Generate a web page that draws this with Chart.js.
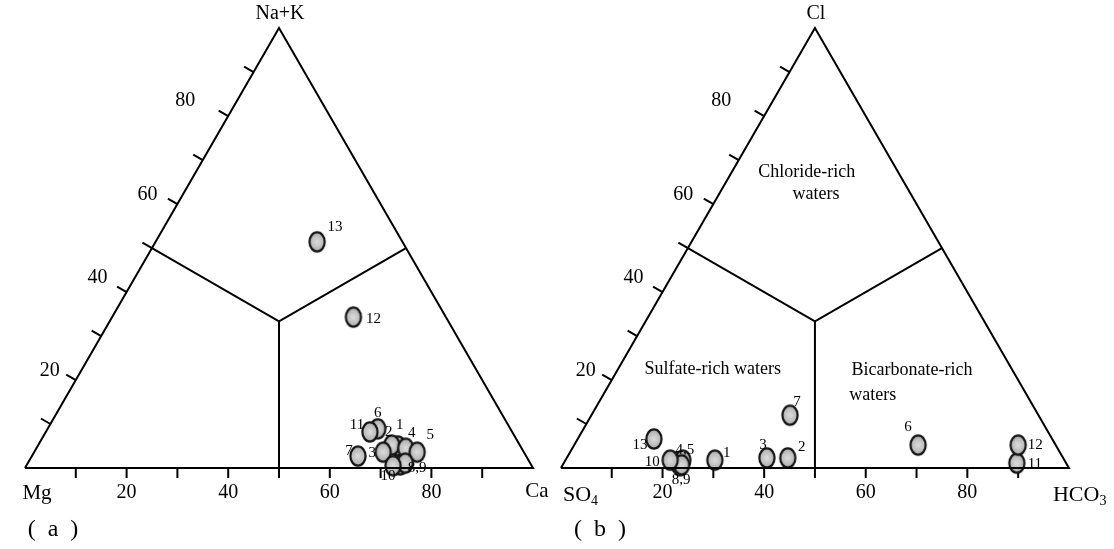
<!DOCTYPE html>
<html>
<head>
<meta charset="utf-8">
<script src="https://cdn.jsdelivr.net/npm/chart.js@4"></script>
<style>
  html, body { margin: 0; padding: 0; background: #fff; }
  canvas { display: block; }
</style>
</head>
<body>
<canvas id="ternary" width="1114" height="549"></canvas>
<script>
// Probennummern 1..13
const samples = ['1', '2', '3', '4', '5', '6', '7', '8', '9', '10', '11', '12', '13'];

// (a) Kationen in % (Mg = 100 - Ca - Na+K)
const caA  = [70.9, 69.6, 68.7, 72.7, 75.4, 65.0, 64.2, 73.5, 74.3, 72.2, 63.8, 47.5, 31.8];
const nakA = [ 5.0,  5.2,  3.6,  4.5,  3.6,  8.9,  2.7,  0.7,  1.1,  0.5,  8.2, 34.3, 51.4];

// (b) Anionen in % (SO4 = 100 - HCO3 - Cl)
const hco3B = [29.4, 43.5, 39.4, 22.1, 23.1, 67.7, 39.1, 23.2, 23.4, 20.6, 89.2, 87.4, 15.0];
const clB   = [ 1.8,  2.3,  2.3,  1.4,  1.8,  5.2, 12.0,  0.5,  0.7,  1.8,  1.1,  5.2,  6.6];

const edgeTicks = [10, 20, 30, 40, 50, 60, 70, 80, 90];
const tickLabels = [20, 40, 60, 80];

// Beschriftungen der Punkte (8 und 9 teilen sich ein Label)
const labelsA = ['1', '2', '3', '4', '5', '6', '7', '8,9', '', '10', '11', '12', '13'];
const labelsB = ['1', '2', '3', '4,5', '', '6', '7', '8,9', '', '10', '11', '12', '13'];
// Versatz der Label in Pixeln
const offA = [[2,-21],[-3,-13],[-11,1],[6,-15],[13,-17],[0,-16],[-9,-5],[17,3],[0,0],[-5,10],[-13,-7],[20,2],[18,-15]];
const offB = [[12,-7],[14,-11],[-4,-13],[8,-12],[0,0],[-10,-18],[7,-13],[1,14],[0,0],[-18,2],[18,1],[17,0],[-14,6]];
// Feinkorrektur der Kantenbeschriftung 20/40/60/80
const sideShift = [[-26,-9],[-29,-14],[-30,-9],[-43,-15]];

const SIN60 = Math.sqrt(3) / 2;
const OFFSET_B = 105.5;   // zweites Dreieck rechts daneben

// Ternär -> kartesisch
const toXY = (right, top, off) => ({ x: off + right + top / 2, y: top * SIN60 });

const pointsA = caA.map((c, i) => toXY(c, nakA[i], 0));
const pointsB = hco3B.map((h, i) => toXY(h, clB[i], OFFSET_B));

const frame = (off) => [toXY(0, 0, off), toXY(100, 0, off), toXY(0, 100, off), toXY(0, 0, off)];
const divide = (off) => [toXY(0, 50, off), toXY(100 / 3, 100 / 3, off), toXY(50, 50, off)];
const stem = (off) => [toXY(100 / 3, 100 / 3, off), toXY(50, 0, off)];

// Ellipse als Punktsymbol
const ellipse = document.createElement('canvas');
ellipse.width = 20;
ellipse.height = 24;
(() => {
    const c = ellipse.getContext('2d');
    const g = c.createRadialGradient(10, 12, 1, 10, 12, 10);
    g.addColorStop(0, '#d8d8d8');
    g.addColorStop(1, '#a8a8a8');
    c.beginPath();
    c.ellipse(10, 12, 7.6, 9.6, 0, 0, Math.PI * 2);
    c.fillStyle = g;
    c.fill();
    c.lineWidth = 2.2;
    c.strokeStyle = '#151515';
    c.stroke();
})();

const lineSet = (data) => ({
    type: 'scatter',
    data: data,
    showLine: true,
    fill: false,
    borderColor: '#000',
    borderWidth: 2,
    pointRadius: 0,
    tension: 0
});

const SERIF = '"Liberation Serif", "DejaVu Serif", serif';

const decor = {
    id: 'decor',
    beforeDatasetsDraw(chart) {
        const { ctx, scales: { x, y } } = chart;
        ctx.save();
        ctx.strokeStyle = '#000';
        ctx.lineWidth = 2;
        [0, OFFSET_B].forEach(off => {
            edgeTicks.forEach(v => {
                // Grundlinie
                const b = toXY(v, 0, off);
                const bx = x.getPixelForValue(b.x), by = y.getPixelForValue(b.y);
                ctx.beginPath();
                ctx.moveTo(bx, by);
                ctx.lineTo(bx, by + 10);
                ctx.stroke();
                // linke Kante
                const l = toXY(0, v, off);
                const lx = x.getPixelForValue(l.x), ly = y.getPixelForValue(l.y);
                ctx.beginPath();
                ctx.moveTo(lx, ly);
                ctx.lineTo(lx - 11 * SIN60, ly - 5.5);
                ctx.stroke();
            });
        });
        ctx.restore();
    },
    afterDatasetsDraw(chart) {
        const { ctx, scales: { x, y } } = chart;
        const P = (pt) => [x.getPixelForValue(pt.x), y.getPixelForValue(pt.y)];
        ctx.save();
        ctx.fillStyle = '#000';
        ctx.textAlign = 'center';
        ctx.textBaseline = 'middle';

        // Achsenbeschriftung
        ctx.font = '20px ' + SERIF;
        [0, OFFSET_B].forEach(off => {
            tickLabels.forEach((v, k) => {
                const [bx, by] = P(toXY(v, 0, off));
                ctx.fillText(String(v), bx, by + 25);
                const [lx, ly] = P(toXY(0, v, off));
                ctx.fillText(String(v), lx + sideShift[k][0], ly + sideShift[k][1]);
            });
        });

        // Ecken
        const [ax, ay] = P(toXY(0, 100, 0));
        const [bx0, by0] = P(toXY(0, 0, 0));
        const [bx1] = P(toXY(100, 0, 0));
        const [cx, cy] = P(toXY(0, 100, OFFSET_B));
        const [dx0] = P(toXY(0, 0, OFFSET_B));
        const [dx1] = P(toXY(100, 0, OFFSET_B));
        ctx.font = '20px ' + SERIF;
        ctx.fillText('Na+K', ax + 1, ay - 14);
        ctx.fillText('Cl', cx + 1, cy - 14);
        ctx.font = '21px ' + SERIF;
        ctx.fillText('Mg', bx0 + 12, by0 + 25);
        ctx.fillText('Ca', bx1 + 4, by0 + 23);

        const sub = (main, s, x0, y0) => {
            ctx.textAlign = 'left';
            ctx.font = '22px ' + SERIF;
            ctx.fillText(main, x0, y0);
            const w = ctx.measureText(main).width;
            ctx.font = '14px ' + SERIF;
            ctx.fillText(s, x0 + w, y0 + 6);
            ctx.textAlign = 'center';
        };
        sub('SO', '4', dx0 + 2, by0 + 27);
        sub('HCO', '3', dx1 - 16, by0 + 27);

        ctx.font = '24px ' + SERIF;
        ctx.fillText('(  a  )', 53, 530);
        ctx.fillText('(  b  )', 600, 530);

        // Bereiche
        ctx.font = '18px ' + SERIF;
        ctx.fillText('Chloride-rich', x.getPixelForValue(153.9), y.getPixelForValue(58.3));
        ctx.fillText('waters', x.getPixelForValue(155.7), y.getPixelForValue(53.9));
        ctx.fillText('Sulfate-rich waters', x.getPixelForValue(135.4), y.getPixelForValue(19.5));
        ctx.fillText('Bicarbonate-rich', x.getPixelForValue(174.6), y.getPixelForValue(19.3));
        ctx.fillText('waters', x.getPixelForValue(166.9), y.getPixelForValue(14.4));

        // Probennummern
        ctx.font = '15px ' + SERIF;
        pointsA.forEach((pt, i) => {
            if (!labelsA[i]) return;
            const [px, py] = P(pt);
            ctx.fillText(labelsA[i], px + offA[i][0], py + offA[i][1]);
        });
        pointsB.forEach((pt, i) => {
            if (!labelsB[i]) return;
            const [px, py] = P(pt);
            ctx.fillText(labelsB[i], px + offB[i][0], py + offB[i][1]);
        });
        ctx.restore();
    }
};

const PXU = 5.08;  // Pixel je Einheit
new Chart(document.getElementById('ternary'), {
    type: 'scatter',
    data: {
        datasets: [
            lineSet(frame(0)), lineSet(divide(0)), lineSet(stem(0)),
            lineSet(frame(OFFSET_B)), lineSet(divide(OFFSET_B)), lineSet(stem(OFFSET_B)),
            { label: '(a)', data: pointsA, pointStyle: ellipse, pointRadius: 10 },
            { label: '(b)', data: pointsB, pointStyle: ellipse, pointRadius: 10 }
        ]
    },
    options: {
        responsive: false,
        animation: false,
        devicePixelRatio: 1,
        layout: { padding: 0, autoPadding: false },
        scales: {
            x: { type: 'linear', display: false, min: -25 / PXU, max: -25 / PXU + 1114 / PXU },
            y: { type: 'linear', display: false, min: -81 / PXU, max: -81 / PXU + 549 / PXU }
        },
        plugins: { legend: { display: false }, tooltip: { enabled: false } }
    },
    plugins: [decor]
});
</script>
</body>
</html>
